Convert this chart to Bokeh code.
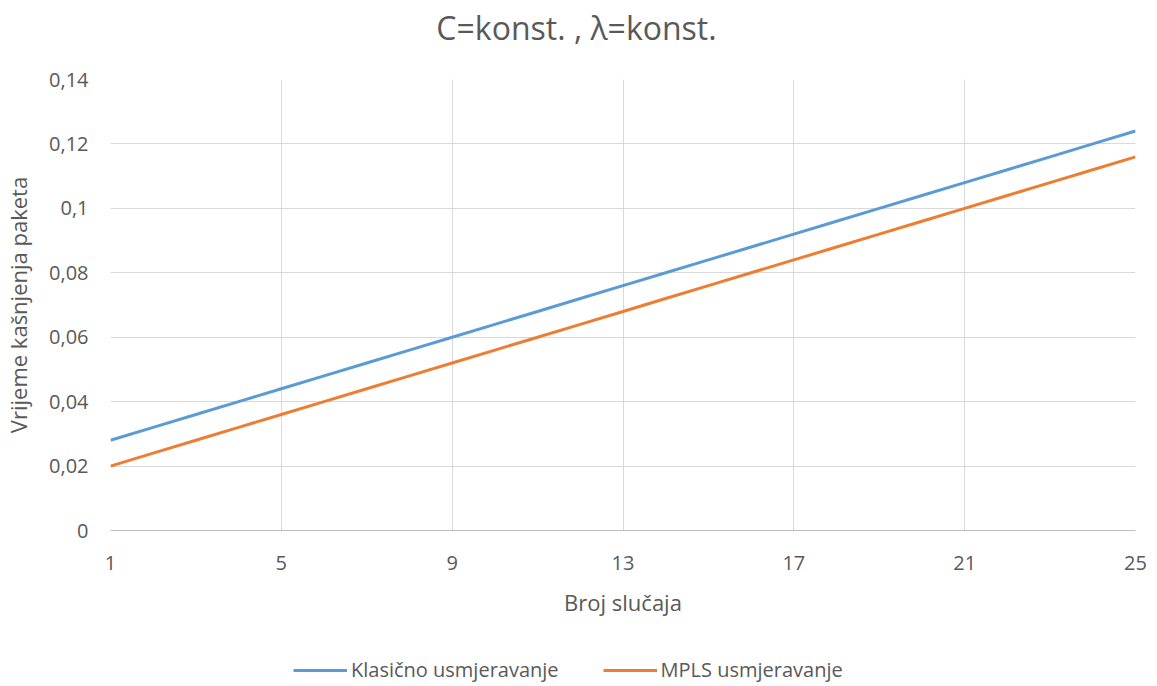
from bokeh.plotting import figure
from bokeh.layouts import column
from bokeh.models import FixedTicker, CustomJSTickFormatter, Range1d, Legend, LegendItem, Label
from bokeh.embed import file_html
from bokeh.resources import INLINE

cases = list(range(1, 26))
klasicno = [0.028, 0.032, 0.036, 0.040, 0.044, 0.048, 0.052, 0.056, 0.060, 0.064,
            0.068, 0.072, 0.076, 0.080, 0.084, 0.088, 0.092, 0.096, 0.100, 0.104,
            0.108, 0.112, 0.116, 0.120, 0.124]
mpls = [0.020, 0.024, 0.028, 0.032, 0.036, 0.040, 0.044, 0.048, 0.052, 0.056,
        0.060, 0.064, 0.068, 0.072, 0.076, 0.080, 0.084, 0.088, 0.092, 0.096,
        0.100, 0.104, 0.108, 0.112, 0.116]
x_ticks = [1, 5, 9, 13, 17, 21, 25]
y_ticks = [0, 0.02, 0.04, 0.06, 0.08, 0.1, 0.12, 0.14]
title_text = "C=konst. , λ=konst."
series_names = ["Klasično usmjeravanje", "MPLS usmjeravanje"]
series_colors = ["#5B9BD5", "#ED7D31"]
series_values = [klasicno, mpls]

FONT = "Open Sans"
TXT = "#595959"
LEFT, FW, RIGHT = 110, 1025, 22


def bare(h, y_range):
    f = figure(frame_width=FW, frame_height=h, output_backend="svg", toolbar_location=None,
               x_range=Range1d(LEFT, LEFT + FW), y_range=y_range,
               x_axis_type=None, y_axis_type=None,
               min_border_left=LEFT, min_border_right=RIGHT,
               min_border_top=0, min_border_bottom=0)
    f.outline_line_color = None
    f.xgrid.visible = False
    f.ygrid.visible = False
    return f


# ---- title strip (x in page pixels, y up from strip bottom)
pt = bare(60, Range1d(0, 60))
pt.add_layout(Label(x=576, y=33, text=title_text, text_align="center",
                    text_baseline="middle", text_font=FONT, text_font_size="32px",
                    text_color=TXT))

# ---- main chart
p = figure(frame_width=FW, frame_height=451, output_backend="svg", toolbar_location=None,
           x_range=Range1d(1, 25), y_range=Range1d(0, 0.14),
           min_border_left=LEFT, min_border_right=RIGHT, min_border_top=19, min_border_bottom=96)
p.outline_line_color = None

for vals, col in zip(series_values, series_colors):
    p.line(cases, vals, line_color=col, line_width=3)

p.xaxis.ticker = FixedTicker(ticks=x_ticks)
p.yaxis.ticker = FixedTicker(ticks=y_ticks)
p.yaxis.formatter = CustomJSTickFormatter(code="return String(Math.round(tick*100)/100).replace('.', ',');")

for ax in (p.xaxis, p.yaxis):
    ax.major_tick_line_color = None
    ax.minor_tick_line_color = None
    ax.major_label_text_font = FONT
    ax.major_label_text_font_size = "20px"
    ax.major_label_text_color = TXT
    ax.axis_label_text_font = FONT
    ax.axis_label_text_font_size = "22px"
    ax.axis_label_text_font_style = "normal"
    ax.axis_label_text_color = TXT

p.xaxis.axis_label = "Broj slučaja"
p.yaxis.axis_label = "Vrijeme kašnjenja paketa"
p.xaxis.axis_line_color = "#BFBFBF"
p.xaxis.major_label_standoff = 19
p.xaxis.axis_label_standoff = 14
p.yaxis.axis_line_color = None
p.yaxis.major_label_standoff = 16
p.yaxis.axis_label_standoff = 13

p.xgrid.ticker = FixedTicker(ticks=x_ticks)
p.xgrid.grid_line_color = "#D9D9D9"
p.ygrid.grid_line_color = "#D9D9D9"

# ---- legend strip: same series drawn out of view, only used for legend glyphs
pl = bare(60, Range1d(1, 2))
items = []
for name, vals, col in zip(series_names, series_values, series_colors):
    r = pl.line(cases, vals, line_color=col, line_width=3)
    items.append(LegendItem(label=name, renderers=[r]))
legend = Legend(items=items, orientation="horizontal", location=(183, 3),
                label_text_font=FONT, label_text_font_size="20px", label_text_color=TXT,
                glyph_width=54, label_standoff=4, spacing=44, padding=3,
                border_line_color=None, background_fill_alpha=0)
pl.add_layout(legend)

layout = column(pt, p, pl, spacing=0)
open("out.html", "w").write(file_html(layout, INLINE))
